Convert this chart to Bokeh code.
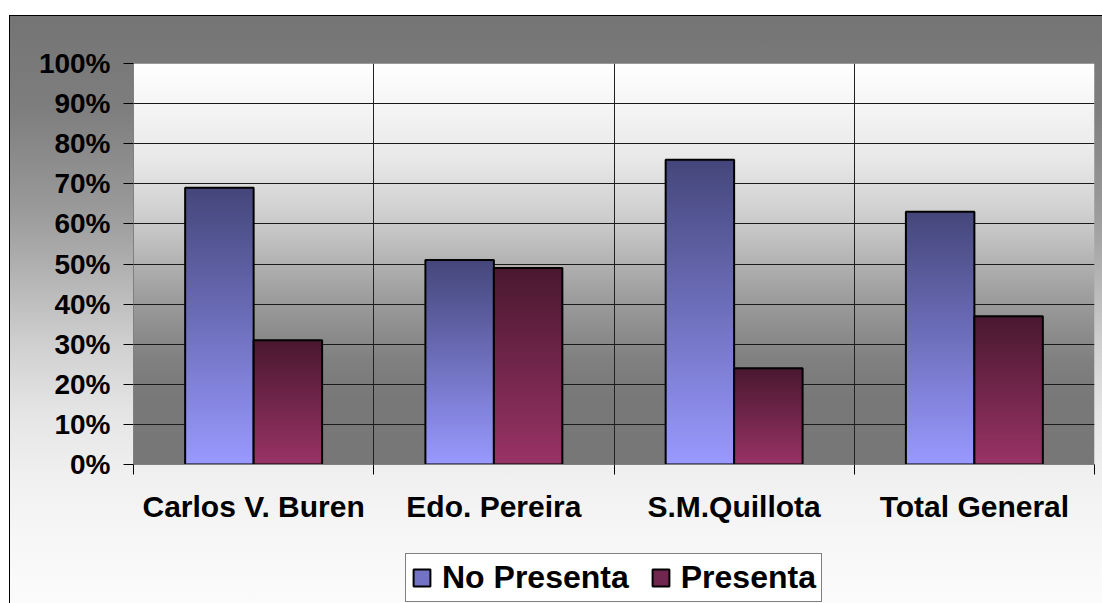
import numpy as np
from bokeh.plotting import figure
from bokeh.layouts import column
from bokeh.models import Range1d, FixedTicker, Legend, LegendItem, PrintfTickFormatter
from bokeh.embed import file_html
from bokeh.resources import INLINE

# ---- data -------------------------------------------------------------
categories = ["Carlos V. Buren", "Edo. Pereira", "S.M.Quillota", "Total General"]
no_presenta = [69, 51, 76, 63]
presenta = [31, 49, 24, 37]
series_names = ["No Presenta", "Presenta"]
y_ticks = list(range(0, 101, 10))

# ---- style ------------------------------------------------------------
FONT = "Liberation Sans"
BAR_W = 0.285
OFFSET = 0.1425
BLUE_RAMP = [(0.0, "#9999ff"), (1.0, "#44467a")]      # bottom -> top
RED_RAMP = [(0.0, "#993366"), (1.0, "#4a1830")]
BLUE_SWATCH = "#7273c4"
RED_SWATCH = "#70264f"
# plot-area background, fraction measured from the bottom of the frame
BG_RAMP = [(0.0, "#777777"), (0.16, "#787878"), (0.26, "#808080"),
           (0.43, "#a0a0a0"), (0.59, "#c8c8c8"), (0.76, "#e8e8e8"), (1.0, "#ffffff")]
CHART_BG = (
    "linear-gradient(#000,#000) 9px 15px / 1093px 1px no-repeat, "
    "linear-gradient(#000,#000) 9px 15px / 1px 588px no-repeat, "
    "linear-gradient(to bottom, #747474 0px, #7e7e7e 95px, #9a9a9a 195px, "
    "#b4b4b4 262px, #cfcfcf 328px, #e4e4e4 395px, #f0f0f0 462px, "
    "#f7f7f7 528px, #fbfbfb 588px) 9px 15px / 1093px 588px no-repeat, #ffffff"
)


def hex_rgb(h):
    h = h.lstrip("#")
    return [int(h[i:i + 2], 16) for i in (0, 2, 4)]


def ramp_image(stops, n=256):
    t = np.linspace(0.0, 1.0, n)
    ts = [s[0] for s in stops]
    cols = np.array([hex_rgb(s[1]) for s in stops], dtype=float)
    arr = np.zeros((n, 2, 4), dtype=np.uint8)
    for c in range(3):
        arr[:, :, c] = np.interp(t, ts, cols[:, c])[:, None].round()
    arr[:, :, 3] = 255
    return arr.view(np.uint32).reshape(n, 2)


n_cat = len(categories)
centers = [i + 0.5 for i in range(n_cat)]
bounds = list(range(n_cat + 1))

p = figure(
    width=1102, height=540,
    x_range=Range1d(0, n_cat), y_range=Range1d(y_ticks[0], y_ticks[-1]),
    output_backend="svg", toolbar_location=None,
    min_border_left=133, min_border_right=8, min_border_top=63, min_border_bottom=76,
)
p.border_fill_color = None
p.background_fill_color = None
p.outline_line_color = None

# plot-area gradient
bg = p.image_rgba(image=[ramp_image(BG_RAMP, 401)], x=0, y=y_ticks[0],
                  dw=n_cat, dh=y_ticks[-1] - y_ticks[0])
bg.level = "image"

# bars: vertical gradient body with a black outline
for vals, sign, ramp in [(no_presenta, -1, BLUE_RAMP), (presenta, 1, RED_RAMP)]:
    xs = [c + sign * OFFSET for c in centers]
    img = ramp_image(ramp)
    p.image_rgba(image=[img] * len(vals), x=[x - BAR_W / 2 for x in xs],
                 y=[0] * len(vals), dw=[BAR_W] * len(vals), dh=vals)
    p.vbar(x=xs, top=vals, bottom=0, width=BAR_W, fill_alpha=0,
           line_color="black", line_width=2)

# x axis: category names centred, ticks on the category boundaries
xt = FixedTicker(ticks=centers, minor_ticks=bounds)
xa = p.xaxis[0]
xa.ticker = xt
xa.major_label_overrides = {c: name for c, name in zip(centers, categories)}
xa.major_tick_out = 0
xa.major_tick_in = 0
xa.minor_tick_out = 10
xa.minor_tick_in = 0
xa.minor_tick_line_color = "black"
xa.axis_line_color = "#808080"
xa.major_label_standoff = 15
xa.major_label_text_font = FONT
xa.major_label_text_font_style = "bold"
xa.major_label_text_font_size = "30px"
xa.major_label_text_color = "black"

ya = p.yaxis[0]
ya.ticker = FixedTicker(ticks=y_ticks)
ya.formatter = PrintfTickFormatter(format="%d%%")
ya.major_tick_out = 10
ya.major_tick_in = 0
ya.major_tick_line_color = "black"
ya.minor_tick_line_color = None
ya.axis_line_color = "#808080"
ya.major_label_standoff = 13
ya.major_label_text_font = FONT
ya.major_label_text_font_style = "bold"
ya.major_label_text_font_size = "28px"
ya.major_label_text_color = "black"

p.xgrid.ticker = xt
p.xgrid.grid_line_color = None
p.xgrid.minor_grid_line_color = "#222222"
p.ygrid.ticker = FixedTicker(ticks=y_ticks[1:-1])
p.ygrid.grid_line_color = "#1a1a1a"

# legend strip under the chart (its frame lines up with the chart's frame)
lg = figure(
    width=1102, height=63, x_range=Range1d(0, 1), y_range=Range1d(0, 1),
    output_backend="svg", toolbar_location=None,
    min_border=0, x_axis_type=None, y_axis_type=None,
)
lg.border_fill_color = None
lg.background_fill_color = None
lg.outline_line_color = None
lg.grid.visible = False
# NaN positions: nothing is drawn in the strip, only the legend swatches
nan = np.array([np.nan])
swatches = [
    lg.vbar(x=nan, top=nan, width=0.1, fill_color=BLUE_SWATCH, line_color="black", line_width=2),
    lg.vbar(x=nan, top=nan, width=0.1, fill_color=RED_SWATCH, line_color="black", line_width=2),
]
legend = Legend(
    items=[LegendItem(label=n, renderers=[r]) for n, r in zip(series_names, swatches)],
    orientation="horizontal", location=(272, 1),
    label_text_font=FONT, label_text_font_style="bold", label_text_font_size="32px",
    label_text_color="black",
    glyph_width=21, glyph_height=21, label_standoff=10, spacing=21, padding=5,
    border_line_color="black", border_line_width=1,
    background_fill_color="white", background_fill_alpha=1.0,
)
lg.add_layout(legend)

page = column(p, lg, spacing=0, styles={"background": CHART_BG})

open("out.html", "w").write(file_html(page, INLINE))
